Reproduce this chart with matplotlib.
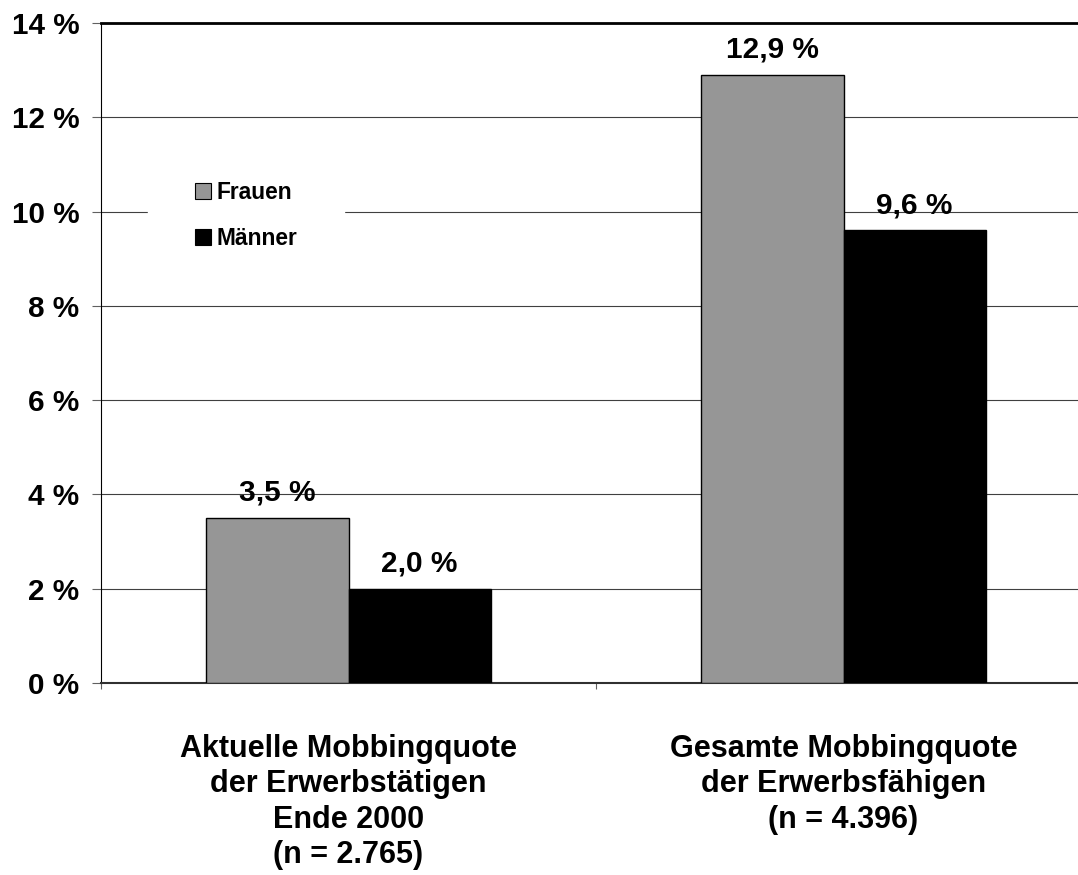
import numpy as np
import matplotlib
matplotlib.use('Agg')
import matplotlib.pyplot as plt
from matplotlib.patches import Patch

plt.rcParams['font.family'] = ['Liberation Sans', 'DejaVu Sans']
plt.rcParams['font.weight'] = 'bold'

# Daten
kategorien = ['Aktuelle Mobbingquote\nder Erwerbstätigen\nEnde 2000\n(n = 2.765)',
              'Gesamte Mobbingquote\nder Erwerbsfähigen\n(n = 4.396)']
frauen = [3.5, 12.9]
maenner = [2.0, 9.6]
serien = ['Frauen', 'Männer']
farben = ['#969696', '#000000']
y_ticks = [0, 2, 4, 6, 8, 10, 12, 14]

fig = plt.figure(figsize=(10.78, 8.75), dpi=100)
ax = fig.add_axes([101 / 1078, 1 - 683 / 875, 990 / 1078, 660 / 875])

x = np.arange(len(kategorien))
w = 0.287
for werte, off, farbe in [(frauen, -w / 2, farben[0]), (maenner, w / 2, farben[1])]:
    bars = ax.bar(x + off, werte, width=w, color=farbe, edgecolor='black',
                  linewidth=1.0, zorder=3)
    for b, v in zip(bars, werte):
        ax.annotate(f'{v:.1f} %'.replace('.', ','),
                    (b.get_x() + b.get_width() / 2, v),
                    xytext=(0, 12.5), textcoords='offset points',
                    ha='center', va='baseline', fontsize=21.5, fontweight='bold')

ax.set_xlim(-0.5, 1.5)
ax.set_ylim(0, 14)
ax.set_yticks(y_ticks)
ax.set_yticklabels([f'{t} %' for t in y_ticks], fontsize=21.3, fontweight='bold')
ax.tick_params(axis='y', direction='out', length=6.5, width=0.8, color='#606060', pad=9)

ax.set_xticks(x)
ax.set_xticklabels(kategorien, fontsize=22, fontweight='bold', linespacing=1.22)
ax.tick_params(axis='x', which='major', length=0, pad=37)
ax.set_xticks([-0.5, 0.5, 1.5], minor=True)
ax.tick_params(axis='x', which='minor', direction='out', length=4, width=0.8, color='#606060')

ax.yaxis.grid(True, color='#404040', linewidth=0.8, zorder=0)
ax.set_axisbelow(True)

ax.spines['top'].set_linewidth(2.0)
ax.spines['right'].set_visible(False)
ax.spines['left'].set_linewidth(0.8)
ax.spines['bottom'].set_linewidth(1.5)
ax.spines['bottom'].set_color('#303030')

handles = [Patch(facecolor=farben[0], edgecolor='black', linewidth=0.8),
           Patch(facecolor=farben[1], edgecolor='black', linewidth=0.8)]
leg = ax.legend(handles, serien, loc='upper left', bbox_to_anchor=(0.0475, 0.832),
                borderaxespad=0, frameon=True, fancybox=False, framealpha=1,
                edgecolor='white', prop={'size': 16.4, 'weight': 'bold'},
                handlelength=0.7, handleheight=0.7, handletextpad=0.26,
                labelspacing=1.0, borderpad=2.06)
leg.set_zorder(5)

fig.savefig('out.png', dpi=100, facecolor='white')
